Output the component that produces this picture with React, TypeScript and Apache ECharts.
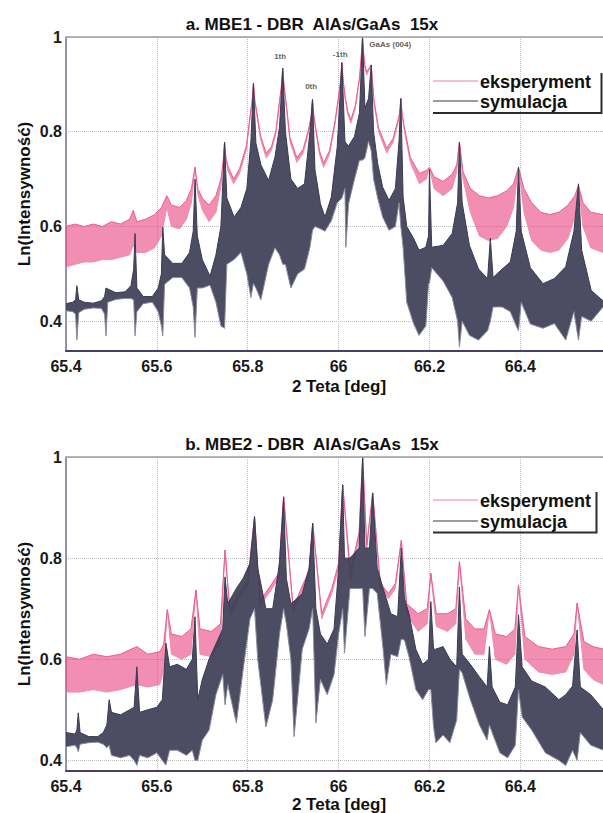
import React, { useEffect, useRef } from "react";
import * as echarts from "echarts";

// Each curve is stored as [2θ, lower, upper]: the dense fringes of the scans are
// drawn as a filled band between the lower and upper envelope.
const mbe1Experiment: number[][] = [
  [65.4, 0.515, 0.6], [65.42, 0.52, 0.605], [65.44, 0.525, 0.6], [65.46, 0.525, 0.605],
  [65.48, 0.53, 0.6], [65.5, 0.53, 0.61], [65.52, 0.535, 0.605], [65.54, 0.54, 0.615],
  [65.548, 0.56, 0.634], [65.556, 0.545, 0.61], [65.575, 0.545, 0.615], [65.595, 0.555, 0.625],
  [65.61, 0.58, 0.64], [65.622, 0.64, 0.665], [65.632, 0.6, 0.645], [65.65, 0.595, 0.64],
  [65.665, 0.615, 0.655], [65.676, 0.65, 0.68], [65.684, 0.725, 0.725], [65.69, 0.668, 0.68],
  [65.7, 0.635, 0.66], [65.715, 0.61, 0.645], [65.73, 0.63, 0.665], [65.741, 0.685, 0.7],
  [65.746, 0.735, 0.738], [65.749, 0.778, 0.778], [65.752, 0.742, 0.745], [65.756, 0.718, 0.728],
  [65.769, 0.69, 0.7], [65.782, 0.712, 0.722], [65.797, 0.762, 0.77], [65.806, 0.835, 0.84],
  [65.8095, 0.86, 0.864], [65.8126, 0.902, 0.902], [65.8157, 0.862, 0.866], [65.82, 0.835, 0.842],
  [65.828, 0.785, 0.792], [65.8405, 0.745, 0.755], [65.852, 0.76, 0.768], [65.862, 0.795, 0.802],
  [65.87, 0.86, 0.866], [65.874, 0.892, 0.895], [65.877, 0.934, 0.934], [65.88, 0.893, 0.896],
  [65.884, 0.86, 0.866], [65.893, 0.78, 0.788], [65.908, 0.735, 0.745], [65.922, 0.755, 0.763],
  [65.933, 0.795, 0.802], [65.9396, 0.828, 0.832], [65.9426, 0.868, 0.868], [65.9456, 0.83, 0.834],
  [65.95, 0.8, 0.806], [65.958, 0.752, 0.76], [65.967, 0.725, 0.734], [65.98, 0.752, 0.76],
  [65.992, 0.815, 0.822], [66.0, 0.87, 0.876], [66.0042, 0.903, 0.906], [66.0072, 0.946, 0.946],
  [66.0102, 0.905, 0.908], [66.014, 0.872, 0.878], [66.02, 0.838, 0.844], [66.027, 0.818, 0.825],
  [66.037, 0.85, 0.856], [66.046, 0.91, 0.915], [66.0497, 0.953, 0.956], [66.0527, 1.0, 1.0],
  [66.0555, 0.958, 0.962], [66.058, 0.935, 0.94], [66.062, 0.92, 0.926], [66.0718, 0.941, 0.941],
  [66.078, 0.86, 0.866], [66.088, 0.8, 0.808], [66.106, 0.755, 0.765], [66.12, 0.778, 0.786],
  [66.13, 0.815, 0.822], [66.134, 0.835, 0.838], [66.137, 0.87, 0.87], [66.14, 0.834, 0.837],
  [66.145, 0.8, 0.808], [66.158, 0.735, 0.745], [66.178, 0.69, 0.712], [66.193, 0.7, 0.718],
  [66.2, 0.725, 0.725], [66.21, 0.68, 0.705], [66.23, 0.665, 0.695], [66.25, 0.68, 0.71],
  [66.26, 0.715, 0.73], [66.266, 0.778, 0.778], [66.274, 0.7, 0.715], [66.29, 0.63, 0.68],
  [66.31, 0.58, 0.665], [66.33, 0.57, 0.66], [66.35, 0.575, 0.665], [66.37, 0.6, 0.675],
  [66.385, 0.64, 0.69], [66.396, 0.725, 0.725], [66.408, 0.63, 0.68], [66.425, 0.57, 0.65],
  [66.445, 0.55, 0.63], [66.465, 0.545, 0.625], [66.485, 0.55, 0.63], [66.505, 0.575, 0.645],
  [66.52, 0.62, 0.665], [66.528, 0.687, 0.687], [66.538, 0.6, 0.65], [66.555, 0.555, 0.63],
  [66.582, 0.545, 0.625],
];

const mbe1Simulation: number[][] = [
  [65.4, 0.422, 0.437], [65.415, 0.42, 0.44], [65.421, 0.415, 0.445], [65.424, 0.36, 0.475],
  [65.428, 0.418, 0.445], [65.44, 0.425, 0.44], [65.46, 0.428, 0.438], [65.478, 0.427, 0.443],
  [65.485, 0.415, 0.452], [65.488, 0.369, 0.47], [65.492, 0.44, 0.468], [65.51, 0.446, 0.46],
  [65.53, 0.448, 0.462], [65.543, 0.448, 0.475], [65.549, 0.445, 0.51], [65.552, 0.369, 0.585],
  [65.556, 0.42, 0.47], [65.57, 0.437, 0.452], [65.59, 0.44, 0.452], [65.603, 0.42, 0.47],
  [65.61, 0.39, 0.5], [65.613, 0.369, 0.598], [65.617, 0.478, 0.54], [65.635, 0.492, 0.522],
  [65.655, 0.492, 0.522], [65.672, 0.47, 0.545], [65.68, 0.43, 0.59], [65.684, 0.366, 0.7],
  [65.689, 0.47, 0.58], [65.7, 0.47, 0.53], [65.717, 0.476, 0.495], [65.73, 0.44, 0.54],
  [65.741, 0.39, 0.6], [65.749, 0.385, 0.778], [65.754, 0.52, 0.66], [65.77, 0.53, 0.62],
  [65.785, 0.545, 0.64], [65.798, 0.5, 0.68], [65.807, 0.45, 0.78], [65.8126, 0.48, 0.902],
  [65.818, 0.47, 0.776], [65.829, 0.445, 0.73], [65.846, 0.52, 0.697], [65.86, 0.555, 0.747],
  [65.87, 0.54, 0.81], [65.877, 0.52, 0.934], [65.883, 0.52, 0.8], [65.895, 0.47, 0.7],
  [65.91, 0.5, 0.68], [65.925, 0.51, 0.69], [65.937, 0.556, 0.8], [65.9426, 0.592, 0.868],
  [65.948, 0.6, 0.72], [65.96, 0.595, 0.648], [65.97, 0.59, 0.62], [65.984, 0.612, 0.662],
  [65.997, 0.65, 0.768], [66.0072, 0.66, 0.946], [66.014, 0.68, 0.78], [66.016, 0.556, 0.776],
  [66.022, 0.648, 0.77], [66.035, 0.7, 0.79], [66.046, 0.74, 0.84], [66.0527, 0.74, 1.0],
  [66.058, 0.745, 0.85], [66.066, 0.78, 0.87], [66.0718, 0.76, 0.941], [66.077, 0.7, 0.8],
  [66.086, 0.66, 0.733], [66.097, 0.62, 0.683], [66.111, 0.592, 0.655], [66.125, 0.6, 0.68],
  [66.133, 0.65, 0.78], [66.137, 0.6, 0.87], [66.142, 0.556, 0.662], [66.15, 0.44, 0.6],
  [66.165, 0.395, 0.575], [66.177, 0.37, 0.55], [66.192, 0.39, 0.556], [66.198, 0.48, 0.58],
  [66.2, 0.48, 0.72], [66.205, 0.513, 0.556], [66.23, 0.485, 0.56], [66.25, 0.45, 0.585],
  [66.262, 0.4, 0.65], [66.266, 0.345, 0.778], [66.272, 0.4, 0.65], [66.288, 0.37, 0.56],
  [66.308, 0.36, 0.51], [66.328, 0.38, 0.49], [66.334, 0.4, 0.575], [66.34, 0.43, 0.492],
  [66.36, 0.43, 0.51], [66.378, 0.42, 0.525], [66.391, 0.39, 0.59], [66.396, 0.38, 0.725],
  [66.402, 0.44, 0.59], [66.422, 0.394, 0.513], [66.45, 0.385, 0.479], [66.475, 0.395, 0.49],
  [66.5, 0.36, 0.515], [66.518, 0.42, 0.59], [66.528, 0.36, 0.69], [66.535, 0.41, 0.55],
  [66.556, 0.4, 0.465], [66.582, 0.43, 0.443],
];

const mbe2Experiment: number[][] = [
  [65.4, 0.535, 0.605], [65.43, 0.535, 0.6], [65.46, 0.54, 0.61], [65.49, 0.535, 0.605],
  [65.52, 0.54, 0.61], [65.556, 0.55, 0.625], [65.58, 0.545, 0.61], [65.607, 0.55, 0.615],
  [65.615, 0.58, 0.63], [65.623, 0.698, 0.698], [65.632, 0.61, 0.65], [65.655, 0.6, 0.645],
  [65.675, 0.61, 0.66], [65.686, 0.737, 0.737], [65.695, 0.61, 0.66], [65.72, 0.605, 0.655],
  [65.74, 0.63, 0.67], [65.75, 0.816, 0.816], [65.761, 0.685, 0.695], [65.78, 0.72, 0.73],
  [65.8, 0.745, 0.755], [65.815, 0.882, 0.882], [65.827, 0.705, 0.715], [65.85, 0.735, 0.745],
  [65.868, 0.76, 0.77], [65.879, 0.922, 0.922], [65.9, 0.694, 0.702], [65.92, 0.735, 0.745],
  [65.935, 0.765, 0.775], [65.943, 0.869, 0.869], [65.963, 0.68, 0.69], [65.985, 0.73, 0.74],
  [66.0, 0.78, 0.79], [66.009, 0.945, 0.945], [66.026, 0.755, 0.775], [66.045, 0.84, 0.85],
  [66.053, 1.0, 1.0], [66.062, 0.82, 0.825], [66.075, 0.929, 0.929], [66.092, 0.74, 0.75],
  [66.11, 0.72, 0.73], [66.125, 0.74, 0.75], [66.138, 0.835, 0.835], [66.15, 0.69, 0.71],
  [66.175, 0.655, 0.69], [66.195, 0.67, 0.7], [66.203, 0.77, 0.77], [66.215, 0.665, 0.69],
  [66.24, 0.655, 0.69], [66.258, 0.67, 0.7], [66.266, 0.793, 0.793], [66.28, 0.64, 0.68],
  [66.3, 0.61, 0.66], [66.32, 0.61, 0.66], [66.332, 0.698, 0.698], [66.345, 0.6, 0.65],
  [66.37, 0.59, 0.645], [66.388, 0.61, 0.66], [66.396, 0.747, 0.747], [66.41, 0.6, 0.645],
  [66.44, 0.575, 0.625], [66.47, 0.57, 0.62], [66.5, 0.575, 0.625], [66.518, 0.61, 0.65],
  [66.525, 0.711, 0.711], [66.54, 0.58, 0.635], [66.56, 0.56, 0.625], [66.583, 0.55, 0.62],
];

const mbe2Simulation: number[][] = [
  [65.4, 0.427, 0.455], [65.42, 0.43, 0.452], [65.424, 0.425, 0.46], [65.427, 0.417, 0.494],
  [65.431, 0.432, 0.455], [65.45, 0.435, 0.447], [65.47, 0.436, 0.447], [65.482, 0.432, 0.455],
  [65.49, 0.425, 0.47], [65.495, 0.43, 0.52], [65.5, 0.41, 0.495], [65.52, 0.405, 0.49],
  [65.54, 0.41, 0.5], [65.55, 0.4, 0.505], [65.556, 0.39, 0.585], [65.562, 0.41, 0.495],
  [65.58, 0.405, 0.5], [65.6, 0.415, 0.505], [65.612, 0.4, 0.52], [65.62, 0.391, 0.632],
  [65.628, 0.42, 0.585], [65.645, 0.42, 0.59], [65.665, 0.41, 0.58], [65.678, 0.42, 0.6],
  [65.684, 0.4, 0.684], [65.69, 0.4, 0.52], [65.7, 0.44, 0.56], [65.715, 0.46, 0.6],
  [65.73, 0.53, 0.63], [65.745, 0.57, 0.66], [65.75, 0.51, 0.763], [65.756, 0.55, 0.71],
  [65.775, 0.474, 0.74], [65.79, 0.58, 0.76], [65.805, 0.68, 0.79], [65.815, 0.7, 0.882],
  [65.822, 0.6, 0.78], [65.84, 0.466, 0.7], [65.855, 0.52, 0.7], [65.87, 0.65, 0.79],
  [65.879, 0.7, 0.92], [65.885, 0.67, 0.76], [65.895, 0.6, 0.71], [65.902, 0.447, 0.715],
  [65.92, 0.62, 0.73], [65.935, 0.66, 0.78], [65.943, 0.7, 0.869], [65.95, 0.474, 0.7],
  [65.96, 0.56, 0.65], [65.975, 0.53, 0.63], [65.99, 0.57, 0.66], [66.0, 0.65, 0.78],
  [66.009, 0.7, 0.945], [66.013, 0.612, 0.8], [66.025, 0.74, 0.8], [66.045, 0.74, 0.82],
  [66.053, 0.74, 1.0], [66.058, 0.645, 0.82], [66.068, 0.74, 0.82], [66.075, 0.74, 0.929],
  [66.085, 0.73, 0.78], [66.098, 0.62, 0.74], [66.105, 0.55, 0.72], [66.115, 0.61, 0.69],
  [66.13, 0.605, 0.684], [66.138, 0.64, 0.82], [66.145, 0.638, 0.72], [66.155, 0.605, 0.69],
  [66.17, 0.54, 0.62], [66.185, 0.52, 0.59], [66.198, 0.54, 0.6], [66.203, 0.54, 0.714],
  [66.209, 0.467, 0.62], [66.214, 0.435, 0.62], [66.23, 0.45, 0.625], [66.245, 0.435, 0.6],
  [66.26, 0.48, 0.585], [66.266, 0.58, 0.743], [66.272, 0.573, 0.61], [66.29, 0.52, 0.59],
  [66.31, 0.47, 0.565], [66.327, 0.44, 0.545], [66.332, 0.47, 0.625], [66.338, 0.455, 0.545],
  [66.355, 0.415, 0.515], [66.372, 0.405, 0.51], [66.389, 0.43, 0.545], [66.396, 0.54, 0.688],
  [66.404, 0.486, 0.585], [66.425, 0.46, 0.557], [66.455, 0.415, 0.545], [66.485, 0.4, 0.52],
  [66.5, 0.39, 0.53], [66.515, 0.42, 0.547], [66.525, 0.4, 0.658], [66.532, 0.455, 0.545],
  [66.555, 0.43, 0.53], [66.583, 0.42, 0.5],
];

// Reflection names above the MBE1 peaks: [2θ, Ln(I), text]
const mbe1PeakLabels: (number | string)[][] = [
  [65.8714, 0.958, "1th"],
  [65.9396, 0.895, "0th"],
  [66.0035, 0.962, "-1th"],
  [66.1137, 0.985, "GaAs (004)"],
];

const panelTitles = ["a. MBE1 - DBR  AlAs/GaAs  15x", "b. MBE2 - DBR  AlAs/GaAs  15x"];
const legendNames = ["eksperyment", "symulacja"];
const xAxisName = "2 Teta [deg]";
const yAxisName = "Ln(Intensywność)";
const thetaRange = [65.4, 66.582];
const intensityMin = [0.337, 0.379];

const FONT = '"Liberation Sans", Arial, sans-serif';
const PINK = "#e8437d";
const DARK = "#3d3d55";

const GRID_TOP = [37, 457];
const GRID_H = 314;

// Band between the lower and upper envelope, drawn once through the axis scales.
function band(rows: number[][], axis: number, fill: string, opacity: number, lo: string, hi: string, z: number) {
  return {
    type: "custom",
    xAxisIndex: axis,
    yAxisIndex: axis,
    silent: true,
    clip: true,
    z,
    data: rows,
    encode: { x: 0, y: [1, 2] },
    renderItem: (params: any, api: any) => {
      if (params.dataIndex !== 0) return null;
      const upper = rows.map((r) => api.coord([r[0], r[2]]));
      const lower = rows.map((r) => api.coord([r[0], r[1]]));
      return {
        type: "group",
        children: [
          {
            type: "polygon",
            shape: { points: upper.concat(lower.slice().reverse()) },
            style: { fill, opacity },
          },
          { type: "polyline", shape: { points: lower }, style: { stroke: lo, lineWidth: 1, fill: null } },
          { type: "polyline", shape: { points: upper }, style: { stroke: hi, lineWidth: 1, fill: null } },
        ],
      };
    },
  };
}

function legendGraphics(lineY: number[], frameBottom: number, frameRight: number) {
  const items: any[] = [];
  const colors = ["#e77fa2", "#3a3a48"];
  legendNames.forEach((name, i) => {
    items.push({
      type: "line",
      shape: { x1: 433, y1: lineY[i], x2: 478, y2: lineY[i] },
      style: { stroke: colors[i], lineWidth: 1 },
      z: 20,
    });
    items.push({
      type: "text",
      x: 480,
      y: lineY[i] + 1,
      style: {
        text: name,
        fontFamily: FONT,
        fontWeight: "bold",
        fontSize: 18,
        fill: "#111",
        align: "left",
        verticalAlign: "middle",
      },
      z: 20,
    });
  });
  items.push({
    type: "polyline",
    shape: { points: [[433, frameBottom], [frameRight, frameBottom], [frameRight, lineY[0] - 8]] },
    style: { stroke: "#2c2c2c", lineWidth: 2, fill: null },
    z: 20,
  });
  return items;
}

function buildOption(): any {
  const grids = GRID_TOP.map((top) => ({ left: 66, right: 0, top, height: GRID_H }));

  const xAxes = [0, 1].map((i) => ({
    type: "value",
    gridIndex: i,
    min: thetaRange[0],
    max: thetaRange[1],
    interval: 0.2,
    axisLine: { show: true, onZero: false, lineStyle: { color: "#4b3d5f", width: 2 } },
    axisTick: { show: false },
    axisLabel: {
      showMaxLabel: false,
      margin: 7,
      color: "#1a1a1a",
      fontFamily: FONT,
      fontWeight: "bold",
      fontSize: 16,
    },
    splitLine: { show: true, lineStyle: { color: "#bdbdbd", type: "dotted", width: 1 } },
  }));

  const yAxes = [0, 1].map((i) => ({
    type: "value",
    gridIndex: i,
    min: intensityMin[i],
    max: 1,
    splitNumber: 3,
    axisLine: { show: true, onZero: false, lineStyle: { color: "#7c6f9c", width: 1.5 } },
    axisTick: { show: false },
    axisLabel: {
      showMinLabel: false,
      margin: 4,
      color: "#1a1a1a",
      fontFamily: FONT,
      fontWeight: "bold",
      fontSize: 16,
      formatter: (v: number) => (Math.abs(v * 5 - Math.round(v * 5)) < 1e-6 ? String(+v.toFixed(1)) : ""),
    },
    splitLine: { show: true, lineStyle: { color: "#bdbdbd", type: "dotted", width: 1 } },
  }));

  const series: any[] = [
    band(mbe1Experiment, 0, PINK, 0.6, "#f08db0", "#ea5d8e", 2),
    band(mbe1Simulation, 0, DARK, 0.92, "#8a8a9c", "#3a3a52", 3),
    band(mbe2Experiment, 1, PINK, 0.6, "#f08db0", "#ea5d8e", 2),
    band(mbe2Simulation, 1, DARK, 0.92, "#8a8a9c", "#3a3a52", 3),
    {
      type: "scatter",
      xAxisIndex: 0,
      yAxisIndex: 0,
      symbolSize: 0,
      silent: true,
      z: 6,
      data: mbe1PeakLabels,
      label: {
        show: true,
        position: "inside",
        formatter: (p: any) => p.data[2],
        fontFamily: FONT,
        fontWeight: "bold",
        fontSize: 8,
        color: "#333",
      },
    },
  ];

  const xNameY = [386, 804];
  const texts: any[] = [];
  panelTitles.forEach((t, i) => {
    texts.push({
      type: "text",
      x: 312,
      y: GRID_TOP[i] - 13,
      style: {
        text: t,
        fontFamily: FONT,
        fontWeight: "bold",
        fontSize: 17,
        fill: "#111",
        align: "center",
        verticalAlign: "middle",
      },
    });
    texts.push({
      type: "text",
      x: 339,
      y: xNameY[i],
      style: {
        text: xAxisName,
        fontFamily: FONT,
        fontWeight: "bold",
        fontSize: 17,
        fill: "#111",
        align: "center",
        verticalAlign: "middle",
      },
    });
    texts.push({
      type: "text",
      x: 24,
      y: GRID_TOP[i] + 157,
      rotation: Math.PI / 2,
      style: {
        text: yAxisName,
        fontFamily: FONT,
        fontWeight: "bold",
        fontSize: 17,
        fill: "#111",
        align: "center",
        verticalAlign: "middle",
      },
    });
    texts.push({
      type: "line",
      shape: { x1: 66, y1: GRID_TOP[i], x2: 603, y2: GRID_TOP[i] },
      style: { stroke: "#9c9c9c", lineWidth: 1.5 },
      z: 10,
    });
  });

  return {
    animation: false,
    backgroundColor: "#ffffff",
    grid: grids,
    xAxis: xAxes,
    yAxis: yAxes,
    series,
    graphic: [
      ...texts,
      ...legendGraphics([81, 101], 113, 601.5),
      ...legendGraphics([500, 521], 532.5, 596.5),
    ],
  };
}

export default function App() {
  const ref = useRef<HTMLDivElement>(null);
  useEffect(() => {
    if (!ref.current) return;
    const chart = echarts.init(ref.current, null, { renderer: "svg" });
    chart.setOption(buildOption());
    return () => chart.dispose();
  }, []);
  return (
    <div
      ref={ref}
      style={{ position: "absolute", left: 0, top: 0, width: 603, height: 813, background: "#fff" }}
    />
  );
}
